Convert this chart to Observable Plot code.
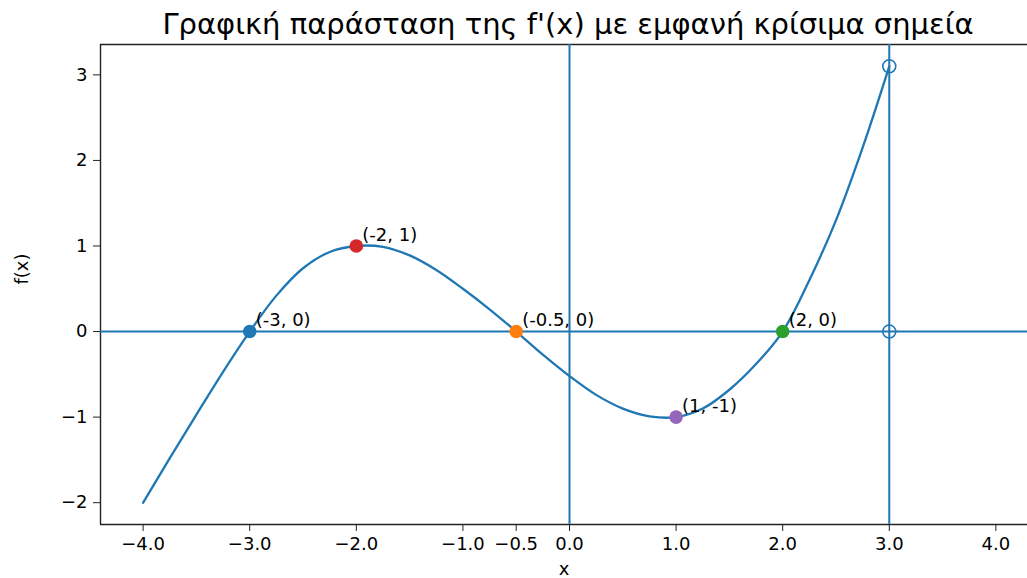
<!DOCTYPE html>
<html>
<head>
<meta charset="utf-8">
<script src="https://cdn.jsdelivr.net/npm/d3@7"></script>
<script src="https://cdn.jsdelivr.net/npm/@observablehq/plot@0.6"></script>
<style>
  html, body { margin: 0; padding: 0; background: white; overflow: hidden; }
  #chart { width: 1027px; height: 578px; overflow: hidden; }
</style>
</head>
<body>
<div id="chart"></div>
<script>
// ---- data ----
const titleText = "Γραφική παράσταση της f'(x) με εμφανή κρίσιμα σημεία";
const xLabel = "x";
const yLabel = "f(x)";

const curveX = [-4, -3.75, -3.5, -3.25, -3, -2.75, -2.5, -2.25, -2, -1.75, -1.5, -1.25, -1, -0.75, -0.5, -0.25, 0, 0.25, 0.5, 0.75, 1, 1.25, 1.5, 1.75, 2, 2.25, 2.5, 2.75, 3];
const curveY = [-2, -1.48, -0.97, -0.47, 0, 0.42, 0.74, 0.93, 1.0, 0.99, 0.89, 0.72, 0.5, 0.26, 0, -0.27, -0.52, -0.74, -0.9, -0.99, -1.0, -0.9, -0.68, -0.38, 0, 0.6, 1.3, 2.15, 3.1];

const critX = [-3, -2, -0.5, 1, 2];
const critY = [0, 1, 0, -1, 0];
const critLabels = ["(-3, 0)", "(-2, 1)", "(-0.5, 0)", "(1, -1)", "(2, 0)"];
const critColors = ["#1f77b4", "#d62728", "#ff7f0e", "#9467bd", "#2ca02c"];

const openX = [3, 3];
const openY = [3.1, 0];

const xTicks = [-4, -3, -2, -1, -0.5, 0, 1, 2, 3, 4];
const yTicks = [-2, -1, 0, 1, 2, 3];
const hLines = [0];
const vLines = [0, 3];

// ---- tables built from the arrays ----
const curve = curveX.map((x, i) => ({x, y: curveY[i]}));
const crit = critX.map((x, i) => ({x, y: critY[i], label: critLabels[i], color: critColors[i]}));
const open = openX.map((x, i) => ({x, y: openY[i]}));

const blue = "#1f77b4";
const font = "DejaVu Sans, sans-serif";

const xDomain = [-4.4, 4.4];
const yDomain = [-2.255, 3.355];

const chart = Plot.plot({
  width: 1027,
  height: 578,
  marginLeft: 100,
  marginRight: 0,
  marginTop: 44,
  marginBottom: 54,
  style: {fontFamily: font, color: "black", background: "white", overflow: "hidden"},
  x: {domain: xDomain, range: [100, 1038]},
  y: {domain: yDomain},
  color: {type: "identity"},
  marks: [
    // spines
    Plot.ruleX([xDomain[0]], {stroke: "#222", strokeWidth: 1.4}),
    Plot.ruleY([yDomain[0]], {stroke: "#222", strokeWidth: 1.4}),
    Plot.ruleY([yDomain[1]], {stroke: "#222", strokeWidth: 1.4}),
    // reference lines
    Plot.ruleY(hLines, {stroke: blue, strokeWidth: 2}),
    Plot.ruleX(vLines, {stroke: blue, strokeWidth: 2}),
    // curve
    Plot.line(curve, {x: "x", y: "y", stroke: blue, strokeWidth: 2.3, curve: "catmull-rom"}),
    // open circles
    Plot.dot(open, {x: "x", y: "y", r: 6.5, stroke: blue, strokeWidth: 1.6, fill: "none"}),
    // critical points
    Plot.dot(crit, {x: "x", y: "y", r: 6.8, fill: "color"}),
    Plot.text(crit, {x: "x", y: "y", text: "label", dx: 6, dy: -11, textAnchor: "start", fontSize: 18, fill: "black"}),
    // axes
    Plot.axisX({ticks: xTicks, tickFormat: d3.format(".1f"), tickSize: 7, tickPadding: 6, fontSize: 18, label: null, stroke: "#222"}),
    Plot.axisY({ticks: yTicks, tickFormat: d3.format("d"), tickSize: 7, tickPadding: 6, fontSize: 18, label: null, stroke: "#222"}),
    // axis titles
    Plot.text([xLabel], {frameAnchor: "bottom", dy: 50, fontSize: 18, text: d => d}),
    Plot.text([yLabel], {frameAnchor: "left", dx: -78, rotate: -90, fontSize: 18, text: d => d}),
    // title
    Plot.text([titleText], {frameAnchor: "top", lineAnchor: "middle", dx: 4, dy: -20, fontSize: 29, text: d => d})
  ]
});
document.getElementById("chart").appendChild(chart);
</script>
</body>
</html>
